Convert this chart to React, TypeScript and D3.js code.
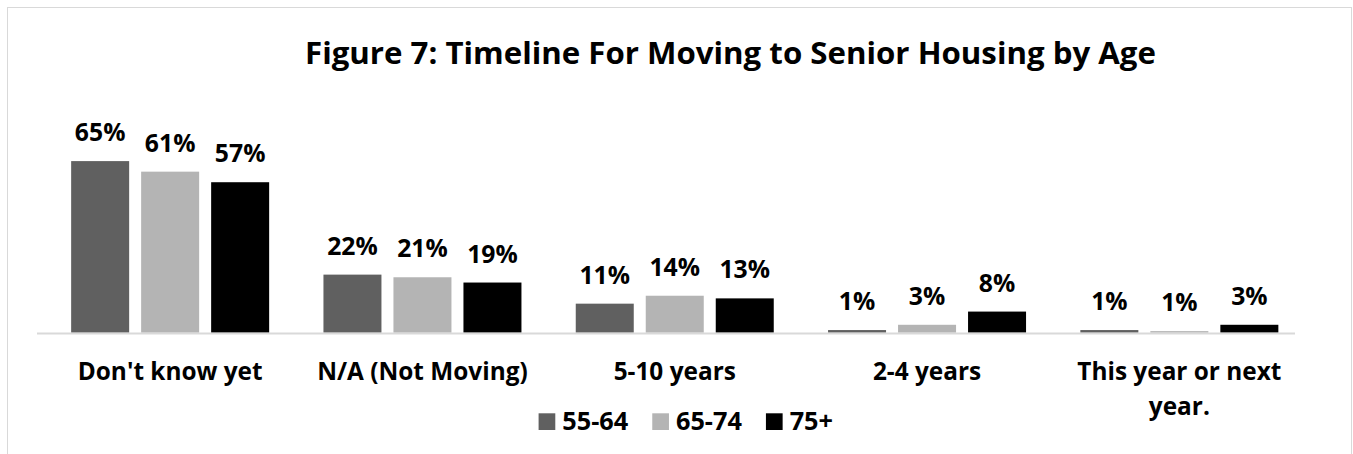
import React, { useEffect, useRef } from "react";
import * as d3 from "d3";

const categories = ["Don't know yet", "N/A (Not Moving)", "5-10 years", "2-4 years", "This year or next year."];
const seriesNames = ["55-64", "65-74", "75+"];
const values5564 = [65, 22, 11, 1, 1];
const values6574 = [61, 21, 14, 3, 0.6];
const values75 = [57, 19, 13, 8, 3];
const seriesColors = ["#606060", "#b4b4b4", "#000000"];
const titleText = "Figure 7: Timeline For Moving to Senior Housing by Age";

const W = 1353;
const H = 454;
const FONT = "'Open Sans', 'Noto Sans', sans-serif";

export default function App() {
  const ref = useRef<SVGSVGElement | null>(null);

  useEffect(() => {
    const svg = d3.select(ref.current);
    svg.selectAll("*").remove();

    const fit = (txt: string, target: number) => {
      const t = svg.append("text")
        .attr("font-family", FONT).attr("font-weight", 700)
        .attr("font-size", 100).text(txt);
      const len = (t.node() as SVGTextElement).getComputedTextLength();
      t.remove();
      return len > 0 ? (100 * target) / len : 26;
    };
    const titleSize = fit(titleText, 851);
    const catSize = fit("Don't know yet", 185);
    const valSize = fit("22%", 50.6);
    const legSize = fit("55-64", 66);

    const series = [values5564, values6574, values75];

    // chart border
    svg.append("rect")
      .attr("x", 7.5).attr("y", 7.5)
      .attr("width", 1344).attr("height", 460)
      .attr("fill", "#fff").attr("stroke", "#d9d9d9").attr("stroke-width", 1);

    const x0 = d3.scaleBand<string>()
      .domain(categories)
      .range([44, 1305.5])
      .paddingInner(42.3 / 252.3)
      .paddingOuter(42.3 / 252.3 / 2);
    const x1 = d3.scaleBand<string>()
      .domain(seriesNames)
      .range([0, x0.bandwidth()])
      .paddingInner(12 / 70)
      .paddingOuter(6 / 70);
    const y = d3.scaleLinear().domain([0, 70]).range([332.7, 332.7 - 70 * 2.64]);

    // title
    svg.append("text")
      .attr("x", 730.5).attr("y", 63.5)
      .attr("text-anchor", "middle")
      .attr("font-family", FONT).attr("font-weight", 700)
      .attr("font-size", titleSize)
      .attr("fill", "#000")
      .text(titleText);

    // bars
    const g = svg.append("g");
    categories.forEach((cat, ci) => {
      seriesNames.forEach((s, si) => {
        const v = series[si][ci];
        const bx = (x0(cat) as number) + (x1(s) as number);
        g.append("rect")
          .attr("x", bx).attr("y", y(v))
          .attr("width", x1.bandwidth())
          .attr("height", y(0) - y(v))
          .attr("fill", seriesColors[si]);
        g.append("text")
          .attr("x", bx + x1.bandwidth() / 2)
          .attr("y", y(v) - 20)
          .attr("text-anchor", "middle")
          .attr("font-family", FONT).attr("font-weight", 700)
          .attr("font-size", valSize)
          .attr("fill", "#000")
          .text(Math.round(v) + "%");
      });
    });

    // baseline
    svg.append("line")
      .attr("x1", 37).attr("x2", 1295)
      .attr("y1", y(0) + 0.8).attr("y2", y(0) + 0.8)
      .attr("stroke", "#d9d9d9").attr("stroke-width", 2);

    // category labels with wrapping
    const maxW = x0.step() - 8;
    categories.forEach((cat) => {
      const t = svg.append("text")
        .attr("text-anchor", "middle")
        .attr("font-family", FONT).attr("font-weight", 700)
        .attr("font-size", catSize)
        .attr("fill", "#000");
      const cx = (x0(cat) as number) + x0.bandwidth() / 2;
      const words = cat.split(" ");
      const lines: string[] = [];
      let cur = "";
      const probe = t.append("tspan");
      words.forEach((w) => {
        const test = cur ? cur + " " + w : w;
        probe.text(test);
        const len = (probe.node() as SVGTSpanElement).getComputedTextLength();
        if (len > maxW && cur) {
          lines.push(cur);
          cur = w;
        } else {
          cur = test;
        }
      });
      lines.push(cur);
      probe.remove();
      lines.forEach((ln, i) => {
        t.append("tspan").attr("x", cx).attr("y", 379.5 + i * 35.7).text(ln);
      });
    });

    // legend
    const lg = svg.append("g");
    let xpos = 0;
    seriesNames.forEach((s, i) => {
      const tt = lg.append("text")
        .attr("font-family", FONT).attr("font-weight", 700)
        .attr("font-size", legSize).attr("fill", "#000")
        .attr("y", 430)
        .text(s);
      lg.append("rect")
        .attr("width", 16.7).attr("height", 16.7)
        .attr("y", 413.3)
        .attr("x", xpos)
        .attr("fill", seriesColors[i]);
      tt.attr("x", xpos + 23.7);
      const len = (tt.node() as SVGTextElement).getComputedTextLength();
      xpos += 23.7 + len + 24;
    });
    const totalW = xpos - 24;
    lg.attr("transform", `translate(${685.8 - totalW / 2},0)`);
  }, []);

  return (
    <svg
      ref={ref}
      width={W}
      height={H}
      style={{ position: "absolute", left: 0, top: 0, display: "block", background: "#fff" }}
    />
  );
}
